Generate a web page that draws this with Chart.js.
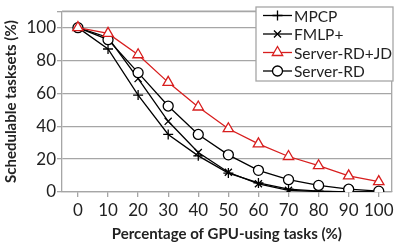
<!DOCTYPE html>
<html lang="en">
<head>
    <meta charset="UTF-8">
    <title>Schedulable tasksets</title>
    <script src="https://cdn.jsdelivr.net/npm/chart.js"></script>
    <style>
        body { margin: 0; background: #fff; }
        #wrap { width: 399px; height: 243px; }
    </style>
</head>
<body>
    <div id="wrap"><canvas id="schedChart"></canvas></div>

    <script>
        // x values: percentage of GPU-using tasks
        const gpuPercent = [0, 10, 20, 30, 40, 50, 60, 70, 80, 90, 100];
        const yTicks = [0, 20, 40, 60, 80, 100, 110];

        // schedulable tasksets (%)
        const mpcp = [100, 87, 59, 35, 22, 11.5, 5.5, 1.7, 0.5, 0, 0];
        const fmlp = [100, 94, 69, 43, 24, 12, 5, 1, 0.3, 0, 0];
        const serverRdJd = [100, 96.5, 83.5, 66.7, 51.7, 38.5, 29.3, 21.6, 16, 9.8, 6.3];
        const serverRd = [100, 92.7, 72.6, 52.3, 35, 22.6, 13.2, 7.5, 4, 1.7, 0.5];

        const red = '#D81E1E';
        const gridGray = '#a6a6a6';
        const font = 'Lato';

        function toPoints(values) {
            return gpuPercent.map((x, i) => ({ x: x, y: values[i] }));
        }

        // box round the plot area
        const frame = {
            id: 'frame',
            beforeDatasetsDraw(chart) {
                const a = chart.chartArea, ctx = chart.ctx;
                ctx.save();
                ctx.strokeStyle = gridGray;
                ctx.lineWidth = 1.3;
                ctx.beginPath();
                ctx.moveTo(a.left, a.top);
                ctx.lineTo(a.right, a.top);
                ctx.lineTo(a.right, a.bottom);
                ctx.stroke();
                ctx.restore();
            }
        };

        // legend inside the plot, line + marker samples, with a frame
        const boxLegend = {
            id: 'boxLegend',
            afterDatasetsDraw(chart) {
                const ctx = chart.ctx;
                const x0 = 256, y0 = 7, w = 137, h = 74;
                ctx.save();
                ctx.fillStyle = '#fff';
                ctx.fillRect(x0, y0, w, h);
                ctx.strokeStyle = gridGray;
                ctx.lineWidth = 1.3;
                ctx.strokeRect(x0, y0, w, h);
                chart.data.datasets.forEach((ds, i) => {
                    const y = y0 + 8.5 + i * 18.5;
                    ctx.strokeStyle = ds.borderColor;
                    ctx.lineWidth = ds.borderWidth;
                    ctx.beginPath();
                    ctx.moveTo(263, y);
                    ctx.lineTo(292, y);
                    ctx.stroke();
                    ctx.fillStyle = '#fff';
                    Chart.helpers.drawPoint(ctx, {
                        pointStyle: ds.pointStyle,
                        radius: ds.pointRadius,
                        borderWidth: ds.borderWidth
                    }, 277.5, y);
                    ctx.fillStyle = '#222';
                    ctx.font = '15.5px "' + font + '"';
                    ctx.textBaseline = 'middle';
                    ctx.textAlign = 'left';
                    ctx.fillText(ds.label, 294, y + 1);
                });
                ctx.restore();
            }
        };

        function series(label, values, color, style, radius, order) {
            return {
                label: label,
                data: toPoints(values),
                borderColor: color,
                backgroundColor: '#fff',
                pointBackgroundColor: style === 'circle' || style === 'triangle' ? '#fff' : color,
                pointBorderColor: color,
                borderWidth: 1.3,
                pointStyle: style,
                pointRadius: radius,
                pointBorderWidth: 1.3,
                fill: false,
                tension: 0,
                order: order
            };
        }

        const ctx = document.getElementById('schedChart').getContext('2d');
        new Chart(ctx, {
            type: 'line',
            data: {
                datasets: [
                    series('MPCP', mpcp, '#000', 'cross', 5, 3),
                    series('FMLP+', fmlp, '#000', 'crossRot', 5, 2),
                    series('Server-RD+JD', serverRdJd, red, 'triangle', 6, 0),
                    series('Server-RD', serverRd, '#000', 'circle', 5, 1)
                ]
            },
            options: {
                responsive: true,
                maintainAspectRatio: false,
                animation: false,
                layout: { padding: { top: 1, right: 4, bottom: 0, left: 2 } },
                plugins: {
                    legend: { display: false },
                    tooltip: { enabled: false }
                },
                scales: {
                    x: {
                        type: 'linear',
                        min: -5.3,
                        max: 104.3,
                        afterBuildTicks: scale => { scale.ticks = gpuPercent.map(v => ({ value: v })); },
                        afterFit: scale => { scale.height = 51; },
                        grid: { drawOnChartArea: false, drawTicks: true, tickLength: 5, color: gridGray, lineWidth: 1.3 },
                        border: { color: gridGray, width: 1.3 },
                        ticks: { color: '#222', font: { family: font, size: 17 }, padding: 3, maxRotation: 0, autoSkip: false },
                        title: {
                            display: true,
                            text: 'Percentage of GPU-using tasks (%)',
                            color: '#222',
                            font: { family: font, size: 15, weight: 'bold' },
                            padding: { top: 0, bottom: 0 }
                        }
                    },
                    y: {
                        min: 0,
                        max: 110,
                        afterBuildTicks: scale => { scale.ticks = yTicks.map(v => ({ value: v })); },
                        afterFit: scale => { scale.width = 60; },
                        grid: { color: gridGray, lineWidth: 1.3, tickLength: 5 },
                        border: { color: gridGray, width: 1.3 },
                        ticks: {
                            color: '#222',
                            font: { family: font, size: 17 },
                            padding: 1,
                            callback: v => (v > 100 ? '' : v)
                        },
                        title: {
                            display: true,
                            text: 'Schedulable tasksets (%)',
                            color: '#222',
                            font: { family: font, size: 15, weight: 'bold' },
                            padding: { top: 0, bottom: 0 }
                        }
                    }
                }
            },
            plugins: [frame, boxLegend]
        });
    </script>
</body>
</html>
